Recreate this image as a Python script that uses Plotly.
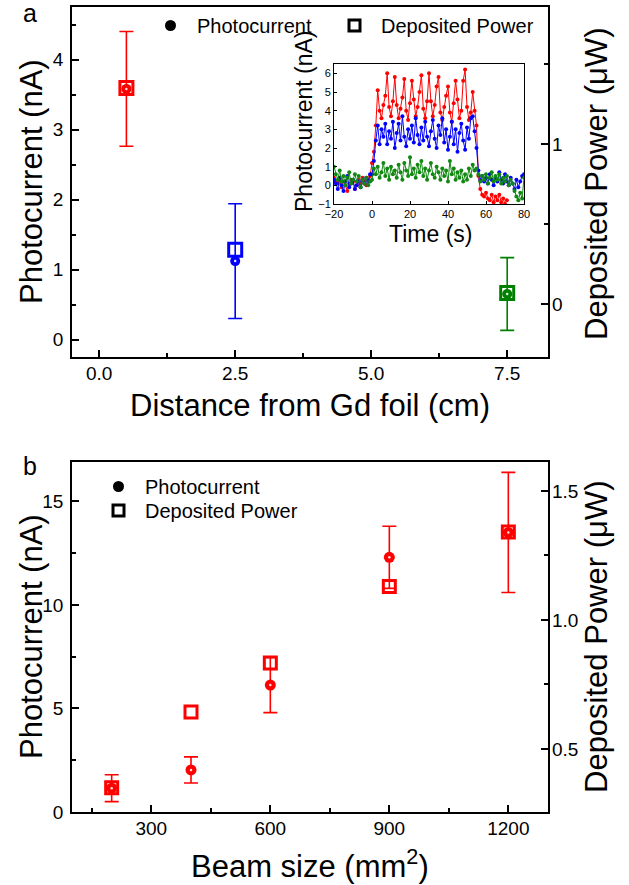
import plotly.graph_objects as go

# ---------------- data ----------------
# panel a
dist_cm = [0.5, 2.5, 7.5]
photocurrent_a = [3.58, 1.12, 0.65]
photocurrent_a_err = [0.82, 0.82, 0.52]
power_a = [1.35, 0.34, 0.07]
colors_a = ["#ff0000", "#0000ff", "#008000"]

# panel b
beam_size = [200, 400, 600, 900, 1200]
photocurrent_b = [1.15, 2.03, 6.13, 12.3, 13.5]
photocurrent_b_err = [0.65, 0.63, 1.33, 1.5, 2.9]
power_b = [0.35, 0.643, 0.833, 1.13, 1.341]

# inset time traces
t_red = list(range(-20, 72))
i_red = [0.4, 0.2, 0.1, 0.3, -0.1, 0.2, 0.0, -0.3, 0.1, 0.3, 0.2, -0.2, 0.0, 0.3, 0.1, 0.4, 0.2, 0.0, 0.3, 0.5,
         1.2, 1.8, 3.2, 5.1, 4.0, 3.6, 4.3, 4.8, 6.0, 4.2,
         3.7, 4.5, 5.8, 4.3, 3.6, 4.1, 4.7, 5.7, 4.0, 3.5,
         4.4, 5.6, 4.6, 3.7, 4.2, 5.0, 5.9, 4.1, 3.6, 4.5,
         6.0, 4.5, 3.7, 4.3, 5.3, 5.8, 3.9, 3.5, 4.2, 4.8,
         5.3, 3.9, 3.4, 4.4, 5.6, 4.6, 3.6, 4.0, 5.6, 6.2,
         4.2, 3.5, 3.9, 5.0, 4.0, 3.2, 0.5, -0.2, -0.5, -0.6,
         -0.4, -0.7, -0.8, -0.5, -0.9, -0.6, -0.8, -0.5, -0.9, -0.7, -1.0, -0.8]
t_blue = list(range(-20, 81))
i_blue = [0.3, 0.1, -0.2, 0.4, 0.0, -0.3, 0.2, 0.5, -0.1, 0.1, 0.3, -0.2, 0.0, 0.2, -0.1, 0.3, 0.1, 0.4, 0.2, 0.6,
          0.6, 1.3, 2.4, 3.2, 2.2, 3.0, 2.6, 3.3, 2.2, 2.9,
          2.5, 3.4, 2.0, 2.8, 3.3, 2.4, 3.7, 2.6, 2.1, 3.0,
          2.5, 3.2, 2.3, 3.6, 2.7, 2.2, 3.1, 2.4, 3.4, 2.6,
          2.1, 2.9, 3.5, 2.5, 2.0, 3.2, 2.7, 3.6, 2.3, 3.0,
          1.9, 2.6, 3.4, 2.2, 3.0, 1.8, 2.8, 3.3, 2.4, 1.9,
          3.1, 2.5, 3.6, 3.7, 2.9, 2.0, 0.8, 0.3, 0.5, 0.2,
          0.4, 0.1, 0.6, 0.3, 0.0, 0.4, 0.2, 0.7, 0.3, 0.1,
          0.6, 0.2, 0.0, 0.4, 0.1, -0.2, 0.3, -0.1, 0.2, 0.5, 0.6]
t_green = list(range(-20, 81))
i_green = [1.0, 0.6, 0.3, 0.8, 0.2, 0.5, 0.0, 0.4, 0.7, 0.1, 0.3, 0.6, 0.2, 0.5, -0.1, 0.3, 0.1, 0.4, 0.0, 0.2,
           0.3, 0.9, 0.6, 1.0, 0.4, 0.7, 1.2, 0.5, 0.9, 0.3,
           1.0, 0.6, 0.8, 0.4, 1.1, 0.7, 0.3, 1.2, 0.8, 0.5,
           1.5, 0.6, 0.9, 0.4, 1.1, 0.7, 1.3, 0.5, 0.9, 0.3,
           0.8, 1.2, 0.6, 0.4, 1.0, 0.7, 0.3, 0.9, 0.5, 0.8,
           0.2, 1.3, 0.6, 0.9, 0.3, 0.7, 0.4, 0.8, 0.2, 0.6,
           0.3, 0.9, 0.5, 1.1, 0.8, 0.9, 0.6, 0.2, 0.5, 0.3,
           0.6, 0.1, 0.4, 0.7, 0.2, 0.5, 0.3, 0.6, 0.1, 0.4,
           0.2, 0.5, 0.0, 0.3, 0.1, -0.3, -0.6, -0.8, -0.4, -0.7, 0.4]

FONT = "Arial, 'Liberation Sans', sans-serif"
W, H = 629, 885

fig = go.Figure()

# ---------------- panel a ----------------
for i in range(len(dist_cm)):
    c = colors_a[i]
    fig.add_trace(go.Scatter(
        x=[dist_cm[i]], y=[power_a[i]], xaxis="x", yaxis="y2", mode="markers",
        marker=dict(symbol="square-open", size=13, color=c, line=dict(width=3, color=c)),
        showlegend=False, hoverinfo="skip"))
    fig.add_trace(go.Scatter(
        x=[dist_cm[i]], y=[photocurrent_a[i]], xaxis="x", yaxis="y", mode="markers",
        marker=dict(symbol="circle", size=10, color=c),
        error_y=dict(type="data", array=[photocurrent_a_err[i]], color=c, thickness=1.6, width=7),
        showlegend=False, hoverinfo="skip"))
    fig.add_trace(go.Scatter(
        x=[dist_cm[i]], y=[photocurrent_a[i]], xaxis="x", yaxis="y", mode="markers",
        marker=dict(symbol="circle", size=2.5, color="rgba(255,255,255,0.9)"),
        showlegend=False, hoverinfo="skip"))

# legend entries panel a
fig.add_trace(go.Scatter(x=[None], y=[None], xaxis="x", yaxis="y", mode="markers",
                         marker=dict(symbol="circle", size=11, color="black"),
                         name="Photocurrent", legend="legend"))
fig.add_trace(go.Scatter(x=[None], y=[None], xaxis="x", yaxis="y", mode="markers",
                         marker=dict(symbol="square-open", size=11, color="black", line=dict(width=3)),
                         name="Deposited Power", legend="legend3"))

# ---------------- inset ----------------
for tt, vv, c in [(t_red, i_red, "#ff0000"), (t_blue, i_blue, "#0000ff"), (t_green, i_green, "#118811")]:
    fig.add_trace(go.Scatter(x=tt, y=vv, xaxis="x3", yaxis="y3", mode="lines+markers",
                             line=dict(color=c, width=1),
                             marker=dict(symbol="circle", size=4, color=c),
                             showlegend=False, hoverinfo="skip"))

# ---------------- panel b ----------------
fig.add_trace(go.Scatter(
    x=beam_size, y=power_b, xaxis="x4", yaxis="y5", mode="markers",
    marker=dict(symbol="square-open", size=12, color="#ff0000", line=dict(width=3, color="#ff0000")),
    showlegend=False, hoverinfo="skip"))
fig.add_trace(go.Scatter(
    x=beam_size, y=photocurrent_b, xaxis="x4", yaxis="y4", mode="markers",
    marker=dict(symbol="circle", size=11, color="#ff0000"),
    error_y=dict(type="data", array=photocurrent_b_err, color="#ff0000", thickness=1.6, width=7),
    showlegend=False, hoverinfo="skip"))
fig.add_trace(go.Scatter(
    x=beam_size, y=photocurrent_b, xaxis="x4", yaxis="y4", mode="markers",
    marker=dict(symbol="circle", size=2.5, color="rgba(255,255,255,0.9)"),
    showlegend=False, hoverinfo="skip"))

fig.add_trace(go.Scatter(x=[None], y=[None], xaxis="x4", yaxis="y4", mode="markers",
                         marker=dict(symbol="circle", size=11, color="black"),
                         name="Photocurrent", legend="legend2"))
fig.add_trace(go.Scatter(x=[None], y=[None], xaxis="x4", yaxis="y4", mode="markers",
                         marker=dict(symbol="square-open", size=11, color="black", line=dict(width=3)),
                         name="Deposited Power", legend="legend4"))

# ---------------- layout ----------------
def px_x(p):
    return p / W

def px_y(p):
    return 1 - p / H

tickfont = dict(family=FONT, size=19, color="black")
common = dict(showgrid=False, zeroline=False, ticks="inside", ticklen=7, tickwidth=1.5,
              tickcolor="black", tickfont=tickfont, automargin=False)
frame = dict(showline=True, linewidth=1.5, linecolor="black", mirror=True)

xdom = [px_x(72), px_x(548)]


def leg(xp, yp):
    return dict(orientation="v", x=px_x(xp), y=px_y(yp), xanchor="left", yanchor="top",
                font=dict(family=FONT, size=20, color="black"), bgcolor="rgba(0,0,0,0)",
                itemwidth=43, tracegroupgap=0)


layout = dict(
    template="none",
    width=W, height=H, margin=dict(l=0, r=0, t=0, b=0, pad=0, autoexpand=False), autosize=False,
    paper_bgcolor="white", plot_bgcolor="rgba(0,0,0,0)",
    font=dict(family=FONT, color="black"),
    xaxis=dict(domain=xdom, anchor="y", range=[-0.5, 8.25], tick0=0, dtick=2.5, tickformat=".1f",
               minor=dict(ticks="inside", ticklen=4, dtick=1.25, tick0=0, tickcolor="black"),
               ticklabelstandoff=-2, **common, **frame),
    yaxis=dict(domain=[px_y(357), px_y(7)], anchor="x", range=[-0.25, 4.75], dtick=1, tick0=0,
               minor=dict(ticks="inside", ticklen=4, dtick=0.5, tick0=0, tickcolor="black"),
               ticklabelstandoff=3, **common, **frame),
    yaxis2=dict(overlaying="y", anchor="x", side="right", range=[-0.33, 1.856], dtick=1, tick0=0,
                minor=dict(ticks="inside", ticklen=4, dtick=0.5, tick0=0, tickcolor="black"),
                ticklabelstandoff=3, showline=False, **common),
    xaxis3=dict(domain=[px_x(334), px_x(524)], anchor="y3", range=[-20, 80], dtick=20, tick0=0,
                showgrid=False, zeroline=False, ticks="inside", ticklen=3, tickcolor="black",
                tickfont=dict(family=FONT, size=11, color="black"), automargin=False,
                showline=True, linewidth=1, linecolor="black", mirror=True),
    yaxis3=dict(domain=[px_y(204), px_y(64)], anchor="x3", range=[-1, 6.5], dtick=1, tick0=0,
                showgrid=False, zeroline=False, ticks="inside", ticklen=3, tickcolor="black",
                tickfont=dict(family=FONT, size=11, color="black"), automargin=False,
                showline=True, linewidth=1, linecolor="black", mirror=True),
    xaxis4=dict(domain=xdom, anchor="y4", range=[100, 1300], tick0=0, dtick=300,
                minor=dict(ticks="inside", ticklen=4, dtick=150, tick0=0, tickcolor="black"),
                ticklabelstandoff=-2, **common, **frame),
    yaxis4=dict(domain=[px_y(812), px_y(462)], anchor="x4", range=[0, 16.9], dtick=5, tick0=0,
                minor=dict(ticks="inside", ticklen=4, dtick=2.5, tick0=0, tickcolor="black"),
                ticklabelstandoff=3, **common, **frame),
    yaxis5=dict(overlaying="y4", anchor="x4", side="right", range=[0.256, 1.612], dtick=0.5, tick0=0,
                tickformat=".1f",
                minor=dict(ticks="inside", ticklen=4, dtick=0.25, tick0=0, tickcolor="black"),
                ticklabelstandoff=3, showline=False, **common),
    legend=leg(144, 6),
    legend3=leg(328, 6),
    legend2=leg(92, 467),
    legend4=leg(92, 491),
)
fig.update_layout(**layout)

title_font = dict(family=FONT, size=31, color="black")
ann = [
    dict(text="a", x=px_x(30), y=px_y(13), font=dict(family=FONT, size=25, color="black")),
    dict(text="b", x=px_x(30), y=px_y(466), font=dict(family=FONT, size=25, color="black")),
    dict(text="Distance from Gd foil (cm)", x=px_x(310), y=px_y(406), font=title_font),
    dict(text="Photocurrent (nA)", x=px_x(31), y=px_y(182), textangle=-90, font=title_font),
    dict(text="Deposited Power (μW)", x=px_x(596), y=px_y(184), textangle=-90, font=title_font),
    dict(text="Beam size (mm<sup>2</sup>)", x=px_x(310), y=px_y(864), font=title_font),
    dict(text="Photocurrent (nA)", x=px_x(31), y=px_y(637), textangle=-90, font=title_font),
    dict(text="Deposited Power (μW)", x=px_x(596), y=px_y(637), textangle=-90, font=title_font),
    dict(text="Photocurrent (nA)", x=px_x(304), y=px_y(121), textangle=-90,
         font=dict(family=FONT, size=23, color="black")),
    dict(text="Time (s)", x=px_x(430), y=px_y(234), font=dict(family=FONT, size=23, color="black")),
]
for a in ann:
    a.update(xref="paper", yref="paper", showarrow=False, xanchor="center", yanchor="middle")
fig.update_layout(annotations=ann)

fig.write_html("out.html", config={"displayModeBar": False},
               post_script="document.body.style.margin='0px';")
